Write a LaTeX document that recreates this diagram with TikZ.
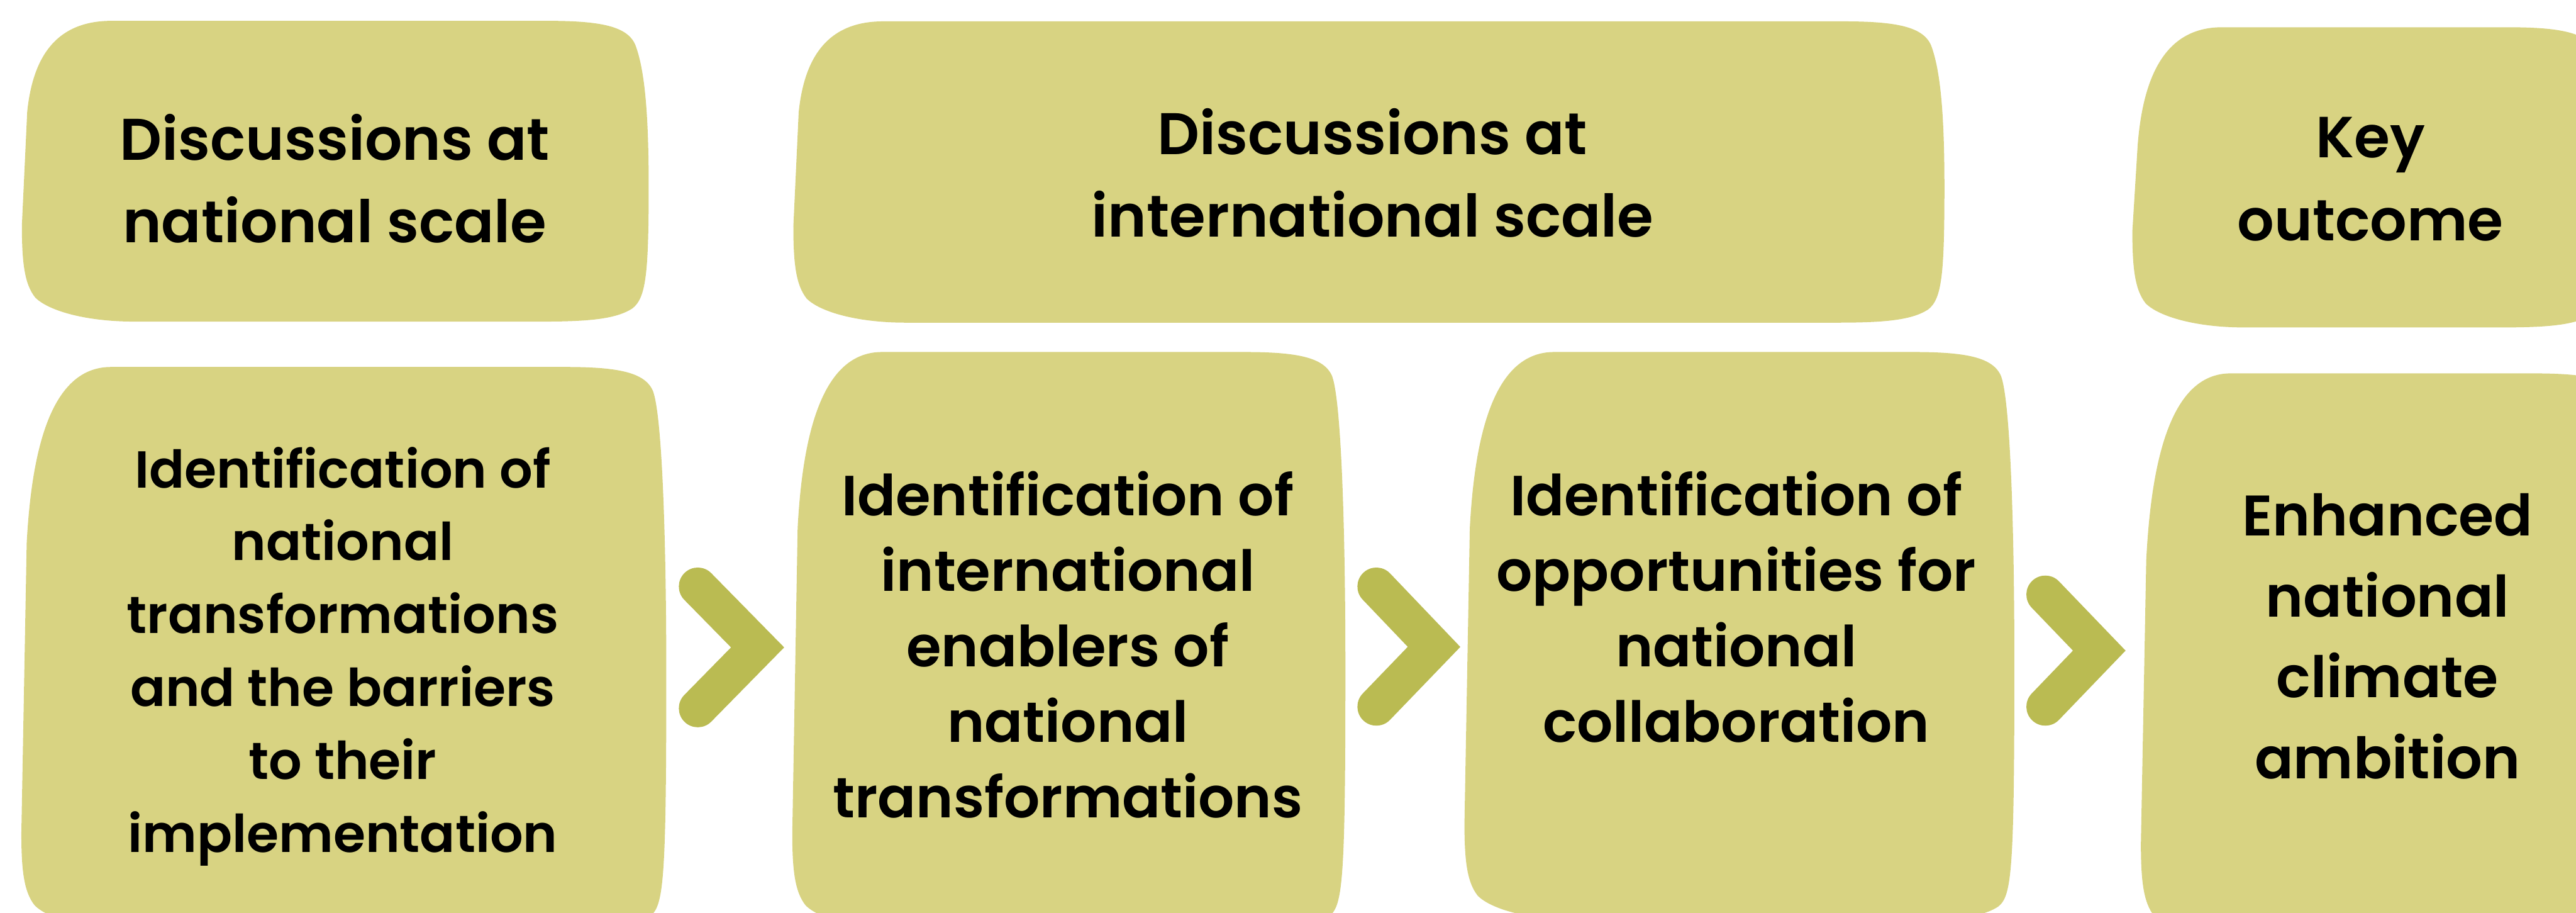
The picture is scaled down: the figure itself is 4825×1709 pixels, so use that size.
\documentclass[tikz,border=0pt]{standalone}
\usepackage{fontspec}
\setmainfont{Poppins}[BoldFont={Poppins SemiBold}]
\begin{document}
\definecolor{boxfill}{RGB}{216,211,130}
\definecolor{chevfill}{RGB}{186,187,82}
% rounded, hand-drawn looking panel: left, top, right, bottom, height of the top-left curve
\newcommand\blobshape[5]{%
  \pgfmathsetmacro\blobmidA{#2+0.3*(#4-#2)}%
  \pgfmathsetmacro\blobmidB{#2+0.55*(#4-#2)}%
  \pgfmathsetmacro\blobtl{#2+0.43*#5}%
  \fill[boxfill] (#1+168,#2) -- (#3-190,#2)
    .. controls (#3-90,#2) and (#3-40,#2+10) .. (#3-25,#2+45)
    .. controls (#3-8,#2+90) and (#3,\blobmidA) .. (#3,\blobmidB)
    .. controls (#3,#4-90) and (#3-5,#4-45) .. (#3-30,#4-25)
    .. controls (#3-60,#4-5) and (#3-110,#4) .. (#3-200,#4)
    -- (#1+210,#4)
    .. controls (#1+120,#4) and (#1+50,#4-20) .. (#1+25,#4-45)
    .. controls (#1+5,#4-70) and (#1,#4-110) .. (#1,#4-180)
    -- (#1+10,#2+#5)
    .. controls (#1+20,\blobtl) and (#1+60,#2) .. (#1+168,#2) -- cycle;}
% centred lines whose first baseline sits on the node's base anchor
\newcommand\lines[3]{{\fontsize{#1}{#2}\selectfont\bfseries
  \begin{tabular}[t]{@{}c@{}}#3\end{tabular}}}
\begin{tikzpicture}[x=0.2pt,y=-0.2pt,
  label/.style={inner sep=0pt,anchor=base,text=black},
  chev/.style={draw=chevfill,line width=71*0.2pt,line cap=round,line join=miter}]
\useasboundingbox (0,0) rectangle (4825,1709);
\clip (0,0) rectangle (4825,1709);

% header panels
\blobshape{41}{39}{1215}{602}{170}
\blobshape{1486}{40}{3642}{604}{170}
\blobshape{3994}{51}{4886}{613}{220}
% step panels
\blobshape{40}{687}{1248}{1740}{330}
\blobshape{1484}{659}{2520}{1740}{330}
\blobshape{2743}{659}{3773}{1722}{330}
\blobshape{4010}{699}{4934}{1760}{350}

\node[label] (hnat) at (627,300) {\lines{22pt}{30.8pt}{Discussions at\\national scale}};
\node[label] (hint) at (2571,289) {\lines{22pt}{30.8pt}{Discussions at\\international scale}};
\node[label] (hkey) at (4440,295) {\lines{21.7pt}{31pt}{Key\\outcome}};

\node[label] (s1) at (642,913) {\lines{19.5pt}{27.3pt}{Identification of\\national\\transformations\\and the barriers\\to their\\implementation}};
\node[label] (s2) at (2000,965) {\lines{21.2pt}{28.3pt}{Identification of\\international\\enablers of\\national\\transformations}};
\node[label] (s3) at (3252,965) {\lines{21.2pt}{28.3pt}{Identification of\\opportunities for\\national\\collaboration}};
\node[label] (s4) at (4472,1003) {\lines{21.4pt}{30.3pt}{Enhanced\\national\\climate\\ambition}};

% chevrons between the steps
\coordinate (c1a) at (1307,1098); \coordinate (c1v) at (1419,1212); \coordinate (c1b) at (1307,1326);
\coordinate (c2a) at (2578,1098); \coordinate (c2v) at (2686,1211); \coordinate (c2b) at (2578,1323);
\coordinate (c3a) at (3831,1113); \coordinate (c3v) at (3932,1218); \coordinate (c3b) at (3831,1323);
\draw[chev] (c1a) -- (c1v) -- (c1b);
\draw[chev] (c2a) -- (c2v) -- (c2b);
\draw[chev] (c3a) -- (c3v) -- (c3b);
\end{tikzpicture}
\end{document}
